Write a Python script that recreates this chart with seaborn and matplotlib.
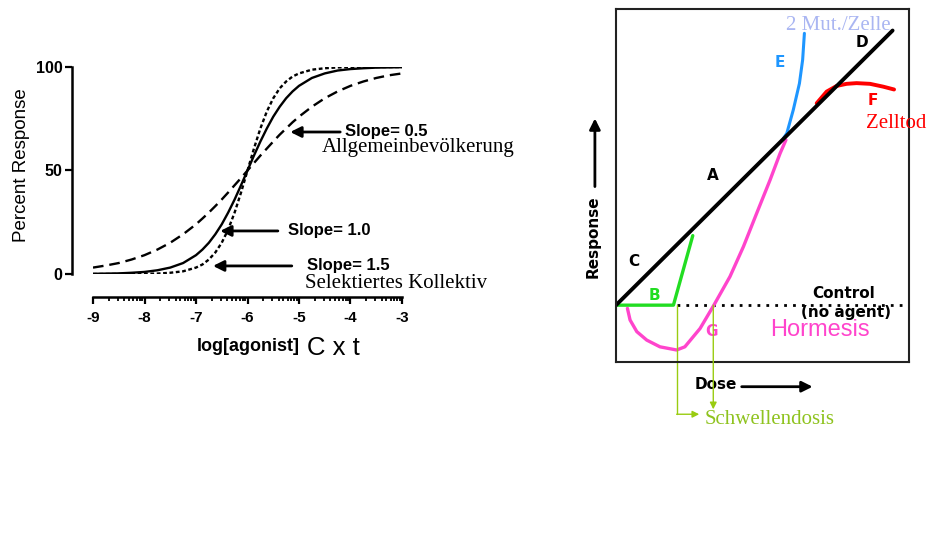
import numpy as np
import pandas as pd
import matplotlib
matplotlib.use("Agg")
import matplotlib.pyplot as plt
import seaborn as sns

# Left panel: dose-response curves (log[agonist] vs % response)
log_dose = [-9.0, -8.75, -8.5, -8.25, -8.0, -7.75, -7.5, -7.25, -7.0, -6.875, -6.75,
            -6.625, -6.5, -6.375, -6.25, -6.125, -6.0, -5.875, -5.75, -5.625, -5.5,
            -5.375, -5.25, -5.125, -5.0, -4.75, -4.5, -4.25, -4.0, -3.75, -3.5, -3.25, -3.0]
resp_slope05 = [3.1, 4.1, 5.3, 7.0, 9.1, 11.8, 15.1, 19.2, 24.0, 26.8, 29.7,
                32.8, 36.0, 39.4, 42.9, 46.4, 50.0, 53.6, 57.2, 60.6, 64.0,
                67.3, 70.3, 73.3, 76.0, 80.8, 84.9, 88.2, 90.9, 93.0, 94.7, 96.0, 96.9]
resp_slope10 = [0.1, 0.2, 0.3, 0.6, 1.0, 1.8, 3.1, 5.3, 9.1, 11.8, 15.1,
                19.2, 24.0, 29.7, 36.0, 42.9, 50.0, 57.2, 64.0, 70.3, 76.0,
                80.8, 84.9, 88.2, 90.9, 94.7, 96.9, 98.3, 99.0, 99.4, 99.7, 99.8, 99.9]
resp_slope15 = [0.0, 0.0, 0.0, 0.0, 0.1, 0.2, 0.6, 1.3, 3.1, 4.6, 7.0,
                10.4, 15.1, 21.5, 29.7, 39.4, 50.0, 60.6, 70.3, 78.5, 84.9,
                89.7, 93.0, 95.4, 96.9, 98.7, 99.4, 99.8, 99.9, 100.0, 100.0, 100.0, 100.0]
x_ticks = [-9, -8, -7, -6, -5, -4, -3]
y_ticks = [0, 50, 100]

# Right panel: schematic dose-response models (dose 0-100, response 0-100)
a_x = [0, 94.4]
a_y = [16.1, 93.9]
b_x = [0, 19.6, 26.2]
b_y = [16.1, 16.1, 35.8]
e_x = [57.1, 58.3, 60.5, 62.6, 63.7, 64.3]
e_y = [63.3, 64.8, 71.4, 78.9, 85.6, 93.1]
f_x = [68.5, 71.9, 75.3, 78.7, 82.1, 86.7, 91.2, 94.9]
f_y = [73.3, 76.6, 78.2, 78.8, 79.0, 78.8, 78.0, 77.2]
g_x = [3.9, 4.8, 7.1, 10.5, 15.0, 20.7, 23.5, 28.7, 33.4, 38.9, 43.5, 48.0, 52.6, 56.0, 58.0]
g_y = [15.2, 11.9, 8.6, 6.2, 4.3, 3.4, 4.3, 9.5, 16.1, 24.2, 32.7, 42.1, 51.6, 59.1, 62.9]
control_level = 16.1

sns.set_style("ticks")
plt.rcParams['font.family'] = ['Liberation Sans', 'DejaVu Sans']
plt.rcParams['axes.unicode_minus'] = False
plt.rcParams['text.color'] = 'black'
plt.rcParams['axes.labelcolor'] = 'black'
plt.rcParams['xtick.color'] = 'black'
plt.rcParams['ytick.color'] = 'black'
plt.rcParams['axes.edgecolor'] = 'black'

SANS = ['Liberation Sans', 'DejaVu Sans']
SERIF = ['Liberation Serif', 'DejaVu Serif']
BLOCK = ['DejaVu Sans']

fig = plt.figure(figsize=(9.27, 5.55), dpi=100)

# ---------------- left panel ----------------
ax = fig.add_axes([93 / 927, 281 / 555, 309 / 927, 207 / 555])
curves = pd.DataFrame({"x": log_dose, "s05": resp_slope05,
                       "s10": resp_slope10, "s15": resp_slope15})
sns.lineplot(data=curves, x="x", y="s05", ax=ax, color="black", lw=1.7,
             linestyle=(0, (4.5, 2.5)))
sns.lineplot(data=curves, x="x", y="s10", ax=ax, color="black", lw=1.7)
sns.lineplot(data=curves, x="x", y="s15", ax=ax, color="black", lw=1.7,
             linestyle=(0, (1.6, 1.1)))

ax.set_xlim(-9, -3)
ax.set_ylim(0, 100)
for s in ["top", "right"]:
    ax.spines[s].set_visible(False)
ax.spines["left"].set_position(("outward", 15))
ax.spines["bottom"].set_position(("outward", 16.5))
ax.spines["left"].set_linewidth(1.8)
ax.spines["bottom"].set_linewidth(1.8)
ax.set_xticks(x_ticks)
ax.set_xticklabels([str(v) for v in x_ticks], fontweight="bold", fontsize=11)
ax.set_yticks(y_ticks)
ax.set_yticklabels([str(v) for v in y_ticks], fontweight="bold", fontsize=11.5)
minor = [d + np.log10(k) for d in range(-9, -3) for k in range(2, 10)]
ax.set_xticks(minor, minor=True)
ax.tick_params(axis="both", which="major", length=5, width=1.6, color="black", pad=2)
ax.tick_params(axis="x", which="major", pad=5)
ax.tick_params(axis="x", which="minor", length=3, width=1.3, color="black")

ax.set_ylabel("Percent Response", fontsize=13.5)
ax.yaxis.set_label_coords(-0.205, 0.527)
ax.set_xlabel("log[agonist]", fontsize=13, fontweight="bold")
ax.xaxis.set_label_coords(0.503, -0.31)
ax.text(0.692, -0.357, "C x t", transform=ax.transAxes, fontsize=18.5,
        ha="left", va="center", family=SANS)

arrow = dict(arrowstyle="-|>", color="black", lw=2, mutation_scale=16,
             shrinkA=0, shrinkB=0)
ax.annotate("", xy=(-5.17, 68.6), xytext=(-4.20, 68.6), arrowprops=arrow)
ax.text(-4.11, 68.6, "Slope= 0.5", fontsize=12, fontweight="bold", va="center")
ax.text(-4.55, 60.9, "Allgemeinbevölkerung", fontsize=15, family=SERIF, va="center")
ax.annotate("", xy=(-6.53, 20.8), xytext=(-5.41, 20.8), arrowprops=arrow)
ax.text(-5.21, 20.8, "Slope= 1.0", fontsize=12, fontweight="bold", va="center")
ax.annotate("", xy=(-6.67, 3.9), xytext=(-5.14, 3.9), arrowprops=arrow)
ax.text(-4.84, 4.3, "Slope= 1.5", fontsize=12, fontweight="bold", va="center")
ax.text(-4.88, -4.8, "Selektiertes Kollektiv", fontsize=15, family=SERIF, va="center")

# ---------------- right panel ----------------
ax2 = fig.add_axes([616 / 927, 193 / 555, 293 / 927, 353 / 555])
ax2.set_xlim(0, 100)
ax2.set_ylim(0, 100)
ax2.set_xticks([])
ax2.set_yticks([])
for s in ax2.spines.values():
    s.set_visible(True)
    s.set_linewidth(1.5)
    s.set_color("#222222")

ax2.plot([b_x[1] + 1.1, 100], [control_level, control_level], color="black",
         lw=2, linestyle=(0, (1, 2.2)), clip_on=False)
sns.lineplot(x=g_x, y=g_y, ax=ax2, color="#ff44cc", lw=2.4, sort=False, estimator=None)
sns.lineplot(x=e_x, y=e_y, ax=ax2, color="#1e96ff", lw=2.2, sort=False, estimator=None)
sns.lineplot(x=f_x, y=f_y, ax=ax2, color="#ff0000", lw=2.8, sort=False, estimator=None)
sns.lineplot(x=b_x, y=b_y, ax=ax2, color="#22dd22", lw=2.4, sort=False, estimator=None)
sns.lineplot(x=a_x, y=a_y, ax=ax2, color="black", lw=2.8, sort=False, estimator=None)

lbl = dict(fontsize=11, fontweight="bold", family=BLOCK, ha="center", va="center")
ax2.text(33.2, 52.8, "A", color="black", **lbl)
ax2.text(6.1, 28.6, "C", color="black", **lbl)
ax2.text(13.1, 18.8, "B", color="#22dd22", **lbl)
ax2.text(84.0, 90.6, "D", color="black", **lbl)
ax2.text(56.0, 84.9, "E", color="#1e96ff", **lbl)
ax2.text(87.8, 74.2, "F", color="#ff0000", **lbl)
ax2.text(32.7, 8.6, "G", color="#ff44cc", **lbl)
ax2.text(77.8, 19.5, "Control", color="black", **lbl)
ax2.text(78.5, 14.0, "(no agent)", color="black", **lbl)
ax2.text(69.6, 9.1, "Hormesis", color="#ff44cc", fontsize=17, family=SANS,
         ha="center", va="center")
ax2.text(95.6, 67.6, "Zelltod", color="#ff0000", fontsize=15, family=SERIF,
         ha="center", va="center")
ax2.text(75.8, 95.3, "2 Mut./Zelle", color="#aab6f2", fontsize=15, family=SERIF,
         ha="center", va="center")

ax2.text(-7.7, 35.5, "Response", rotation=90, color="black", **lbl)
ax2.annotate("", xy=(-7.2, 69.0), xytext=(-7.2, 49.7), annotation_clip=False,
             arrowprops=dict(arrowstyle="-|>", color="black", lw=2, mutation_scale=16,
                             shrinkA=0, shrinkB=0))
ax2.text(34.0, -6.5, "Dose", color="black", **lbl)
ax2.annotate("", xy=(67.1, -7.0), xytext=(42.9, -7.0), annotation_clip=False,
             arrowprops=dict(arrowstyle="-|>", color="black", lw=2, mutation_scale=16,
                             shrinkA=0, shrinkB=0))

yg = "#99cc11"
ax2.plot([20.7, 20.7], [control_level, -14.8], color=yg, lw=1, clip_on=False)
ax2.annotate("", xy=(28.4, -14.8), xytext=(20.7, -14.8), annotation_clip=False,
             arrowprops=dict(arrowstyle="-|>", color=yg, lw=1, mutation_scale=10,
                             shrinkA=0, shrinkB=0))
ax2.annotate("", xy=(33.2, -13.4), xytext=(33.2, control_level), annotation_clip=False,
             arrowprops=dict(arrowstyle="-|>", color=yg, lw=1, mutation_scale=10,
                             shrinkA=0, shrinkB=0))
ax2.text(30.4, -16.2, "Schwellendosis", color="#8fc31f", fontsize=15, family=SERIF,
         ha="left", va="center")

fig.savefig("out.png", dpi=100)
